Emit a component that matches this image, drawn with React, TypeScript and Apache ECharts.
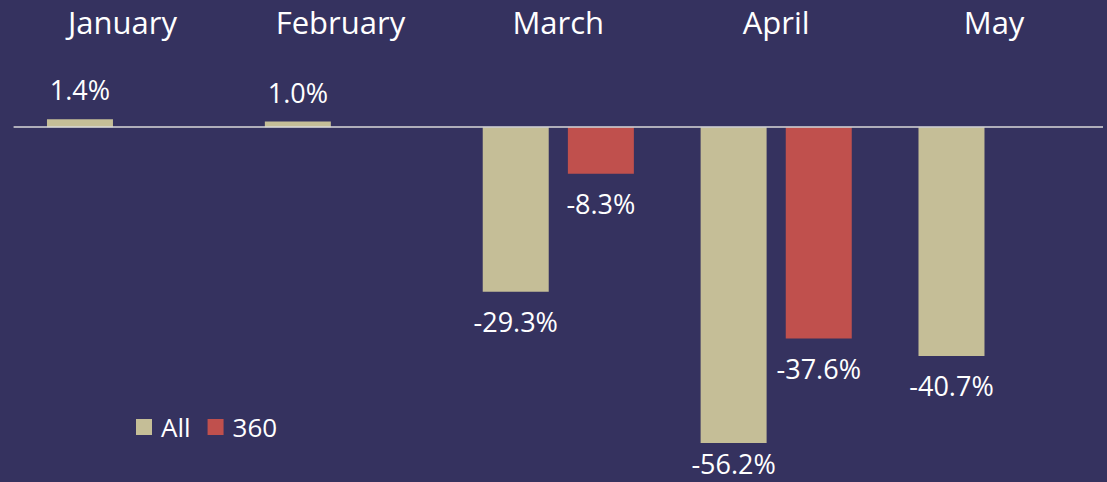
import React, { useEffect, useRef } from "react";
import * as echarts from "echarts";

const months = ["January", "February", "March", "April", "May"];
const allValues: (number | null)[] = [1.4, 1.0, -29.3, -56.2, -40.7];
const values360: (number | null)[] = [null, null, -8.3, -37.6, null];

const FONT = "'Open Sans', 'Noto Sans', sans-serif";

function toData(arr: (number | null)[]) {
  return arr.map((v) =>
    v == null
      ? null
      : { value: v, label: { position: v >= 0 ? "top" : "bottom" } }
  );
}

export default function App() {
  const ref = useRef<HTMLDivElement>(null);
  useEffect(() => {
    document.body.style.margin = "0";
    const chart = echarts.init(ref.current!, undefined, { renderer: "svg" });
    const labelCommon = {
      show: true,
      color: "#FFFFFF",
      fontFamily: FONT,
      fontSize: 27,
      distance: 16,
      formatter: (p: any) => `${Number(p.value).toFixed(1)}%`,
    };
    const keepInside = (p: any) => {
      const r = p.labelRect;
      const limit = 477;
      if (r && r.y + r.height > limit) {
        return { dy: limit - (r.y + r.height) };
      }
      return {};
    };
    chart.setOption({
      animation: false,
      backgroundColor: "#35325F",
      grid: { left: 13.6, right: 4, top: 71, bottom: 17.6, containLabel: false },
      legend: {
        left: 131,
        top: 409,
        padding: 5,
        itemWidth: 16,
        itemHeight: 16,
        itemGap: 17,
        icon: "rect",
        textStyle: { color: "#FFFFFF", fontSize: 26, fontFamily: FONT, padding: [0, 0, 0, 4] },
        data: ["All", "360"],
      },
      xAxis: {
        type: "category",
        data: months,
        position: "top",
        axisLine: { show: false },
        axisTick: { show: false },
        axisLabel: { color: "#FFFFFF", fontSize: 31, fontFamily: FONT, margin: 34 },
      },
      yAxis: {
        type: "value",
        min: -60,
        max: 10,
        show: false,
        splitLine: { show: false },
      },
      series: [
        {
          name: "All",
          type: "bar",
          data: toData(allValues),
          barWidth: 66,
          barGap: "29%",
          itemStyle: { color: "#C5BE97" },
          label: labelCommon,
          labelLayout: keepInside,
          markLine: {
            silent: true,
            symbol: ["none", "none"],
            label: { show: false },
            lineStyle: { color: "#D9D9D9", width: 1.5, type: "solid" },
            data: [{ yAxis: 0 }],
          },
        },
        {
          name: "360",
          type: "bar",
          data: toData(values360),
          barWidth: 66,
          barGap: "29%",
          itemStyle: { color: "#C0504D" },
          label: labelCommon,
          labelLayout: keepInside,
        },
      ],
    });
    return () => chart.dispose();
  }, []);
  return <div ref={ref} style={{ width: 1107, height: 482 }} />;
}
